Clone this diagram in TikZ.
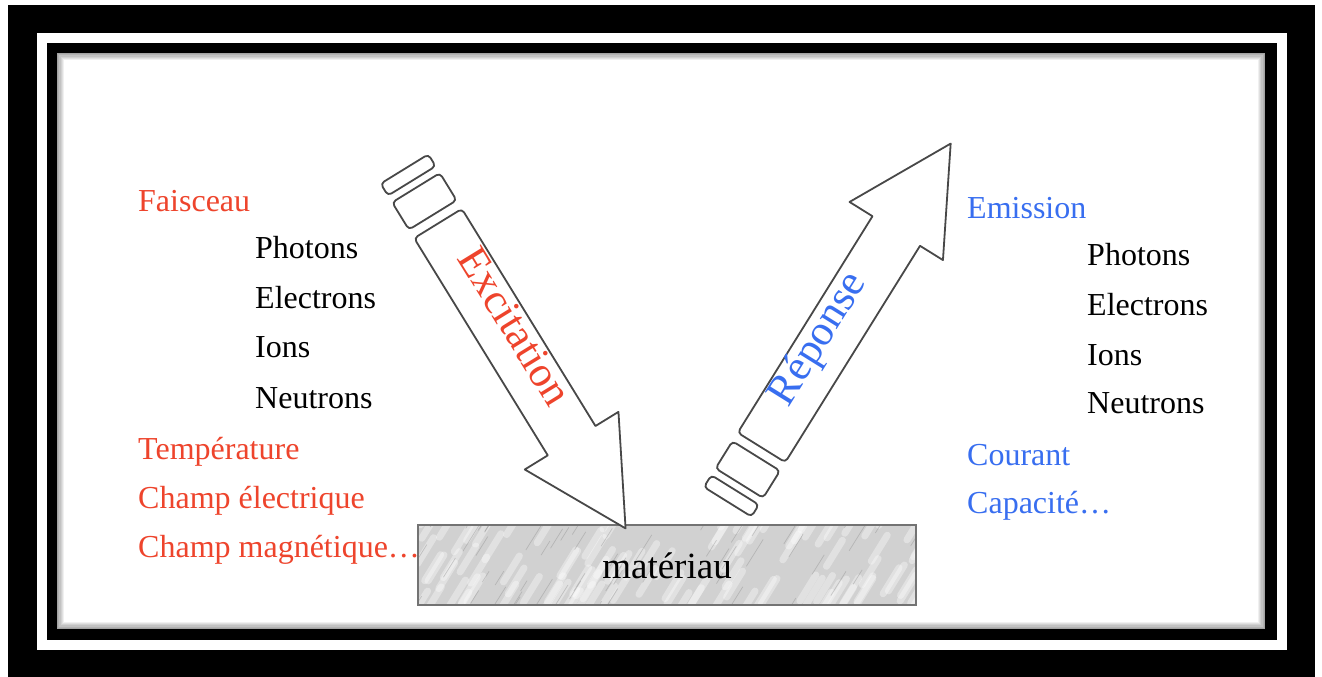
\documentclass[tikz,border=0pt]{standalone}
\usepackage{fontspec}
\setmainfont{Liberation Serif}
\usepackage{tikz}
\definecolor{rouge}{RGB}{238,68,44}
\definecolor{bleu}{RGB}{56,110,240}
\definecolor{trait}{RGB}{72,72,72}
\tikzstyle{lab}=[anchor=base west, inner sep=0pt, font=\fontsize{32}{38}\selectfont]
\tikzstyle{mot}=[anchor=mid, inner sep=0pt, font=\fontsize{43}{48}\selectfont]
\tikzstyle{fleche}=[draw=trait, line width=1.8pt, fill=white, line join=round]
\tikzstyle{bande}=[draw=trait, line width=1.8pt, fill=white, rounded corners=4pt]

\begin{document}
\begin{tikzpicture}[x=1pt,y=-1pt]
	\useasboundingbox (0,0) rectangle (1322,677);
	\fill[white] (0,0) rectangle (1322,677);
	% double cadre noir
	\fill[black] (8,5) rectangle (1315,677);
	\fill[white] (37,33) rectangle (1287,650);
	\fill[black] (47,43) rectangle (1277,640);
	\fill[white] (57,53) rectangle (1265,629);
	\foreach \i [evaluate=\i as \o using {0.36-0.06*\i}] in {0,...,5}
		\draw[black, opacity=\o, line width=1.2pt] (57.6+1.2*\i,53.6+1.2*\i) rectangle (1264.4-1.2*\i,628.4-1.2*\i);

	% bloc de materiau (fond marbre)
	\fill[black!18] (418,525) rectangle (916,605);
	\begin{scope}
		\clip (418,525) rectangle (916,605);
		\pgfmathsetseed{12}
		\foreach \k in {1,...,110}{
			\pgfmathsetmacro\sx{400+rnd*530}
			\pgfmathsetmacro\sy{520+rnd*100}
			\draw[white, opacity=0.35, line width=7pt, line cap=round] (\sx,\sy) -- ++(16,-26);
		}
		\foreach \k in {1,...,60}{
			\pgfmathsetmacro\sx{400+rnd*530}
			\pgfmathsetmacro\sy{520+rnd*100}
			\pgfmathsetmacro\sl{6+rnd*12}
			\draw[black!50, opacity=0.35, line width=0.7pt] (\sx,\sy) -- ++(\sl,-1.6*\sl);
		}
	\end{scope}
	\node[draw=black!55, line width=1.5pt, minimum width=498pt, minimum height=80pt, inner sep=0pt,
		text height=27pt, text depth=0pt, font=\fontsize{37}{40}\selectfont] (mat) at (667,565) {matériau};

	% fleche d'excitation
	\begin{scope}[shift={(438,223.5)}, rotate=-58.4]
		\path[bande] (-64,-28) rectangle (-50,28);
		\path[bande] (-42,-28) rectangle (-10,28);
		\path[fleche] (255,-28) -- (255,-55) -- (358,0) -- (255,55) -- (255,28) [rounded corners=4pt] -- (0,28) -- (0,-28) [sharp corners] -- cycle;
		\node[mot, text=rouge, rotate=-58.4] (exc) at (128,0) {Excitation};
	\end{scope}

	% fleche de reponse
	\begin{scope}[shift={(761.5,447.5)}, rotate=58.1]
		\path[bande] (-64,-28) rectangle (-50,28);
		\path[bande] (-42,-28) rectangle (-10,28);
		\path[fleche] (255,-28) -- (255,-55) -- (358,0) -- (255,55) -- (255,28) [rounded corners=4pt] -- (0,28) -- (0,-28) [sharp corners] -- cycle;
		\node[mot, text=bleu, rotate=58.1] (rep) at (122,0) {Réponse};
	\end{scope}

	% colonne de gauche
	\node[lab, text=rouge] (fais) at (138,211) {Faisceau};
	\node[lab] (pho1) at (255,258) {Photons};
	\node[lab] (ele1) at (255,308) {Electrons};
	\node[lab] (ion1) at (255,357) {Ions};
	\node[lab] (neu1) at (255,408) {Neutrons};
	\node[lab, text=rouge] (temp) at (138,459) {Température};
	\node[lab, text=rouge] (elec) at (138,508) {Champ électrique};
	\node[lab, text=rouge] (magn) at (138,557) {Champ magnétique…};

	% colonne de droite
	\node[lab, text=bleu] (emi) at (967,218) {Emission};
	\node[lab] (pho2) at (1087,265) {Photons};
	\node[lab] (ele2) at (1087,315) {Electrons};
	\node[lab] (ion2) at (1087,365) {Ions};
	\node[lab] (neu2) at (1087,413) {Neutrons};
	\node[lab, text=bleu] (cour) at (967,465) {Courant};
	\node[lab, text=bleu] (capa) at (967,513) {Capacité…};
\end{tikzpicture}
\end{document}
